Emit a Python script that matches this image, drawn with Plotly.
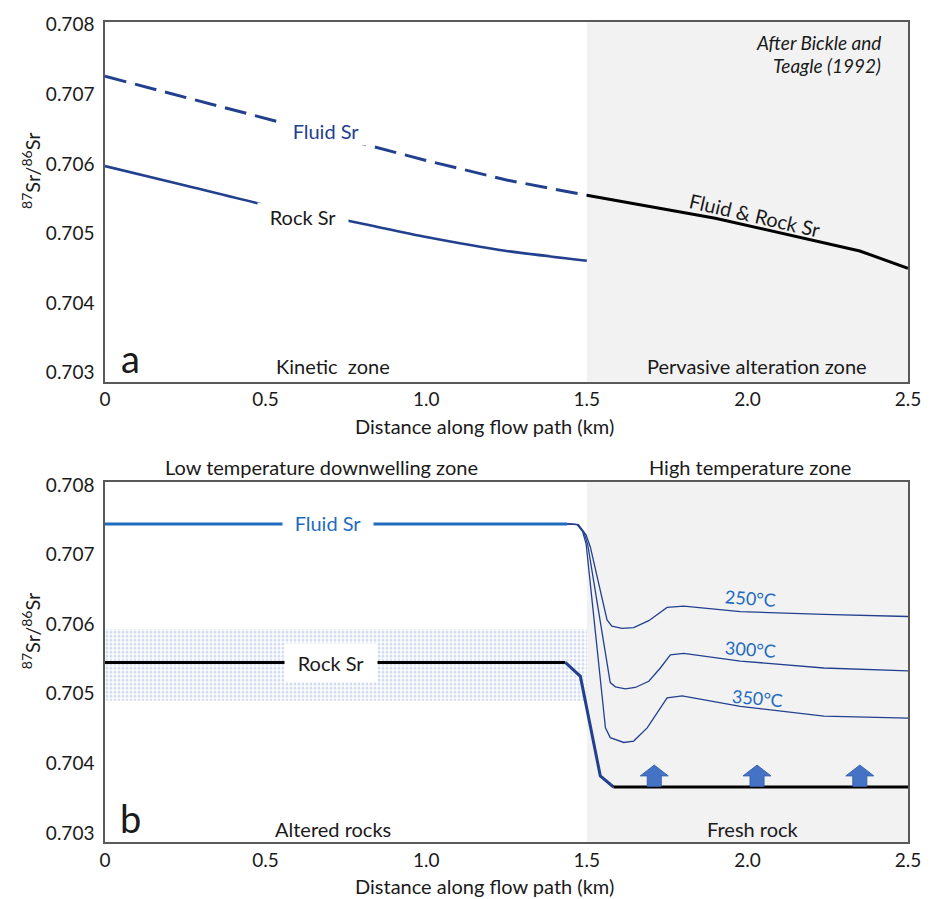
import plotly.graph_objects as go

# ---------------- data ----------------
# Panel a: kinetic exchange model (after Bickle and Teagle, 1992)
a_x = [0, 0.25, 0.5, 0.75, 1.0, 1.25, 1.5]
a_fluid_sr = [0.70726, 0.70696, 0.70665, 0.70635, 0.70605, 0.70577, 0.70555]
a_rock_sr = [0.70597, 0.70569, 0.70541, 0.70519, 0.70495, 0.70475, 0.70461]
a_mix_x = [1.5, 1.9, 2.35, 2.5]
a_mix_sr = [0.70555, 0.70522, 0.70475, 0.70450]

# Panel b: downwelling / high temperature zones
b_fluid_x = [0, 1.439]
b_fluid_sr = [0.70744, 0.70744]

t250_x = [1.439, 1.474, 1.498, 1.511, 1.563, 1.578, 1.610, 1.646, 1.693, 1.750, 1.802, 1.978, 2.237, 2.5]
t250_sr = [0.70744, 0.70743, 0.70728, 0.70711, 0.70606, 0.70597, 0.70594, 0.70595, 0.70605, 0.70624,
           0.70626, 0.70618, 0.70614, 0.70611]
t300_x = [1.439, 1.472, 1.492, 1.503, 1.573, 1.589, 1.620, 1.651, 1.693, 1.729, 1.760, 1.802, 1.978, 2.238, 2.5]
t300_sr = [0.70744, 0.70743, 0.70731, 0.70714, 0.70516, 0.70510, 0.70507, 0.70509, 0.70518, 0.70537,
           0.70556, 0.70558, 0.70547, 0.70537, 0.70533]
t350_x = [1.439, 1.470, 1.487, 1.498, 1.558, 1.573, 1.615, 1.646, 1.688, 1.750, 1.797, 1.978, 2.238, 2.5]
t350_sr = [0.70744, 0.70743, 0.70733, 0.70715, 0.70451, 0.70437, 0.70430, 0.70432, 0.70451, 0.70494,
           0.70497, 0.70482, 0.70468, 0.70465]

b_rock_alt_x = [0, 1.433]
b_rock_alt_sr = [0.70545, 0.70545]
b_rock_step_x = [1.433, 1.480, 1.542, 1.583]
b_rock_step_sr = [0.70545, 0.70525, 0.70382, 0.70366]
b_rock_fresh_x = [1.583, 2.5]
b_rock_fresh_sr = [0.70366, 0.70366]

# range of altered-rock compositions
band_x = [0, 1.5]
band_sr = [0.70490, 0.70593]

# upward flow arrows
arrow_x = [1.71, 2.03, 2.35]

# axis settings
x_ticks = [0, 0.5, 1.0, 1.5, 2.0, 2.5]
x_ticktext = ["0", "0.5", "1.0", "1.5", "2.0", "2.5"]
y_ticks = [0.703, 0.704, 0.705, 0.706, 0.707, 0.708]
y_ticktext = ["0.703", "0.704", "0.705", "0.706", "0.707", "0.708"]
y_range = [0.70287, 0.70804]

# ---------------- style ----------------
FONT = "Lato, 'Open Sans', sans-serif"
NAVY = "#22408e"
BLUE = "#1f6cbf"
TEXT = "#1a1a1a"
FRAME = "#595959"
SHADE = "#f2f2f2"

fig = go.Figure()

# --- panel a ---
fig.add_trace(go.Scatter(x=a_x, y=a_fluid_sr, mode="lines", xaxis="x", yaxis="y",
                         line=dict(color=NAVY, width=3, dash="22px,9px")))
fig.add_trace(go.Scatter(x=a_x, y=a_rock_sr, mode="lines", xaxis="x", yaxis="y",
                         line=dict(color=NAVY, width=2.6, shape="spline", smoothing=0.6)))
fig.add_trace(go.Scatter(x=a_mix_x, y=a_mix_sr, mode="lines", xaxis="x", yaxis="y",
                         line=dict(color="black", width=3)))

# --- panel b ---
# dotted band of altered rock compositions
fig.add_trace(go.Scatter(
    x=[band_x[0], band_x[1], band_x[1], band_x[0], band_x[0]],
    y=[band_sr[0], band_sr[0], band_sr[1], band_sr[1], band_sr[0]],
    mode="lines", fill="toself", xaxis="x2", yaxis="y2",
    line=dict(width=0, color="rgba(0,0,0,0)"),
    fillcolor="rgba(255,255,255,0)",
    fillpattern=dict(shape=".", fgcolor="#a3b8df", bgcolor="rgba(255,255,255,0)",
                     size=4, solidity=0.45)))

fig.add_trace(go.Scatter(x=b_fluid_x, y=b_fluid_sr, mode="lines", xaxis="x2", yaxis="y2",
                         line=dict(color=BLUE, width=3)))
for tx, ty in [(t250_x, t250_sr), (t300_x, t300_sr), (t350_x, t350_sr)]:
    fig.add_trace(go.Scatter(x=tx, y=ty, mode="lines", xaxis="x2", yaxis="y2",
                             line=dict(color=NAVY, width=1.3)))

fig.add_trace(go.Scatter(x=b_rock_alt_x, y=b_rock_alt_sr, mode="lines", xaxis="x2", yaxis="y2",
                         line=dict(color="black", width=3)))
fig.add_trace(go.Scatter(x=b_rock_step_x, y=b_rock_step_sr, mode="lines", xaxis="x2", yaxis="y2",
                         line=dict(color=NAVY, width=3)))
fig.add_trace(go.Scatter(x=b_rock_fresh_x, y=b_rock_fresh_sr, mode="lines", xaxis="x2", yaxis="y2",
                         line=dict(color="black", width=3)))

# block arrows standing on the fresh-rock line
head_hw, shaft_hw = 0.0436, 0.0218          # half widths (km)
shaft_h, head_h = 0.000150, 0.000155         # heights (Sr ratio units)
base = b_rock_fresh_sr[0] + 0.00001
ax_pts, ay_pts = [], []
for cx in arrow_x:
    ax_pts += [cx - shaft_hw, cx - shaft_hw, cx - head_hw, cx, cx + head_hw,
               cx + shaft_hw, cx + shaft_hw, cx - shaft_hw, None]
    ay_pts += [base, base + shaft_h, base + shaft_h, base + shaft_h + head_h,
               base + shaft_h, base + shaft_h, base, base, None]
fig.add_trace(go.Scatter(x=ax_pts, y=ay_pts, mode="lines", fill="toself", xaxis="x2", yaxis="y2",
                         fillcolor="#4472c4", line=dict(color="#3a64b0", width=1)))

# ---------------- layout ----------------
axis_font = dict(family=FONT, size=19, color=TEXT)
common_x = dict(range=[0, 2.5], tickvals=x_ticks, ticktext=x_ticktext, showgrid=False,
                zeroline=False, showline=True, mirror=True, linecolor=FRAME, linewidth=1.5,
                ticks="", tickfont=axis_font, fixedrange=True)
common_y = dict(range=y_range, tickvals=y_ticks, ticktext=y_ticktext, showgrid=False,
                zeroline=False, showline=True, mirror=True, linecolor=FRAME, linewidth=1.5,
                ticks="", tickfont=axis_font, ticklabelstandoff=5, fixedrange=True)

fig.update_layout(
    width=933, height=899,
    margin=dict(l=105, r=25, t=17, b=57),
    paper_bgcolor="white", plot_bgcolor="white",
    showlegend=False,
    xaxis=dict(domain=[0, 1], anchor="y", **common_x),
    yaxis=dict(domain=[0.5612, 1], anchor="x", **common_y),
    xaxis2=dict(domain=[0, 1], anchor="y2", **common_x),
    yaxis2=dict(domain=[0, 0.4388], anchor="x2", **common_y),
)

# shaded high-temperature / pervasive zone
for xr, yr in [("x", "y"), ("x2", "y2")]:
    fig.add_shape(type="rect", xref=xr, yref=f"{yr} domain", x0=1.5, x1=2.5, y0=0, y1=1,
                  fillcolor=SHADE, line=dict(width=0), layer="below")

ann = []


def txt(text, x, y, xref, yref, size=20, color=TEXT, **kw):
    kw.setdefault("xanchor", "center")
    kw.setdefault("yanchor", "middle")
    ann.append(dict(text=text, x=x, y=y, xref=xref, yref=yref, showarrow=False,
                    font=dict(family=FONT, size=size, color=color), **kw))


# line labels (white boxes break the lines)
txt("Fluid Sr", 0.688, 0.70647, "x", "y", color=NAVY, bgcolor="white",
    width=88, height=28, borderpad=0)
txt("Rock Sr", 0.616, 0.70524, "x", "y", bgcolor="white",
    width=90, height=28, borderpad=0)
txt("Fluid & Rock Sr", 2.025, 0.70508, "x", "y", textangle=13, yshift=13)
txt("Fluid Sr", 0.695, 0.70745, "x2", "y2", color=BLUE, bgcolor="white",
    width=90, height=28, borderpad=0)
txt("Rock Sr", 0.704, 0.70545, "x2", "y2", bgcolor="white",
    width=92, height=37, borderpad=0)
txt("250°C", 2.009, 0.70637, "x2", "y2", size=18, color=BLUE, textangle=4)
txt("300°C", 2.009, 0.70564, "x2", "y2", size=18, color=BLUE, textangle=4)
txt("350°C", 2.030, 0.70494, "x2", "y2", size=18, color=BLUE, textangle=5)

# panel letters and zone labels
txt("a", 0.032, 0.066, "x domain", "y domain", size=38)
txt("b", 0.032, 0.068, "x2 domain", "y2 domain", size=38)
txt("Kinetic  zone", 0.284, 0.045, "x domain", "y domain")
txt("Pervasive alteration zone", 0.812, 0.045, "x domain", "y domain")
txt("<i>After Bickle and</i>", 0.969, 0.942, "x domain", "y domain", size=19, xanchor="right")
txt("<i>Teagle (1992)</i>", 0.969, 0.878, "x domain", "y domain", size=19, xanchor="right")
txt("Low temperature downwelling zone", 0.270, 1.043, "x2 domain", "y2 domain")
txt("High temperature zone", 0.803, 1.043, "x2 domain", "y2 domain")
txt("Altered rocks", 0.284, 0.036, "x2 domain", "y2 domain")
txt("Fresh rock", 0.807, 0.036, "x2 domain", "y2 domain")

# axis titles
for xr, yr in [("x", "y"), ("x2", "y2")]:
    txt("Distance along flow path (km)", 0.473, -0.1215, f"{xr} domain", f"{yr} domain")
    txt("<sup>87</sup>Sr/<sup>86</sup>Sr", 0, 0.586, f"{xr} domain", f"{yr} domain", size=20,
        textangle=-90, xshift=-74)

fig.update_layout(annotations=ann)
fig.write_html("out.html")
